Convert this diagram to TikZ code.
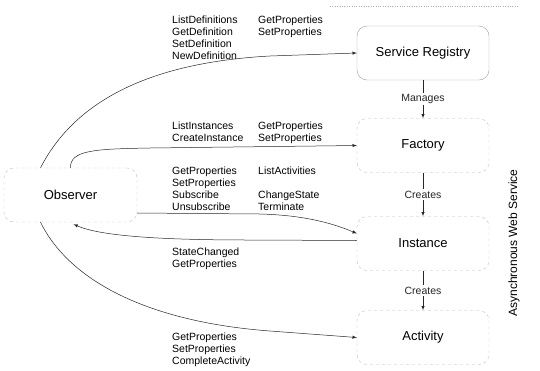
\documentclass[tikz,border=0pt]{standalone}
\usepackage{fontspec}
\setmainfont{Liberation Sans}
\usetikzlibrary{arrows}

\begin{document}
\begin{tikzpicture}[x=1pt,y=-1pt,>=latex,
  box/.style={draw=gray!75,rounded corners=10pt,minimum width=132pt,minimum height=54pt,font=\fontsize{13}{15}\selectfont},
  faintbox/.style={box,draw=gray!50,dashed},
  ops/.style={anchor=north west,align=left,inner sep=0pt,font=\fontsize{10.5}{11.8}\selectfont},
  call/.style={->,line width=0.5pt,black!85},
  rel/.style={fill=white,inner sep=1.5pt,font=\fontsize{10.5}{12}\selectfont}]

\useasboundingbox (0,0) rectangle (540,370);

\def\cx{423}

% service side
\node[box] (reg) at (\cx,53) {Service Registry};
\node[faintbox] (fac) at (\cx,145.5) {Factory};
\node[faintbox] (inst) at (\cx,243.5) {Instance};
\node[faintbox] (act) at (\cx,337.5) {Activity};
\node[faintbox,minimum width=133pt] (obs) at (70.5,195) {Observer};

\node[rotate=90,font=\fontsize{12}{14}\selectfont] (aws) at (514,243) {Asynchronous Web Service};
\draw[gray!60,dotted] (330,6) -- (518,6);

\draw[call] (reg) -- node[rel]{Manages} (fac);
\draw[call] (fac) -- node[rel]{Creates} (inst);
\draw[call] (inst) -- node[rel]{Creates} (act);

% observer calls
\draw[call] ([xshift=-30pt]obs.north) .. controls (78,95) and (160,62) .. (270,56) -- (reg.west);
\draw[call] (obs.north) .. controls (70,150) and (95,149) .. (150,148) -- (fac.west);
\draw[call] ([yshift=-18pt]obs.east) -- (260,214) .. controls (300,215) and (330,222) .. ([yshift=10pt]inst.west);
\draw[call] ([yshift=3pt]inst.west) -- (250,240) .. controls (160,240) and (100,236) .. ([xshift=3pt,yshift=-2pt]obs.south);
\draw[call] ([xshift=-30pt]obs.south) .. controls (70,282) and (150,322) .. (270,331) -- (act.west);

% operations
\node[ops] (regops) at (172,16) {ListDefinitions\\GetDefinition\\SetDefinition\\NewDefinition};
\node[ops] (regprops) at (258,16) {GetProperties\\SetProperties};
\node[ops] (facops) at (172,122) {ListInstances\\CreateInstance};
\node[ops] (facprops) at (258,122) {GetProperties\\SetProperties};
\node[ops] (instops) at (172,167) {GetProperties\\SetProperties\\Subscribe\\Unsubscribe};
\node[ops] (instmore) at (258,167) {ListActivities\\[11.8pt]ChangeState\\Terminate};
\node[ops] (notify) at (172,248) {StateChanged\\GetProperties};
\node[ops] (actops) at (172,333) {GetProperties\\SetProperties\\CompleteActivity};

\end{tikzpicture}
\end{document}
